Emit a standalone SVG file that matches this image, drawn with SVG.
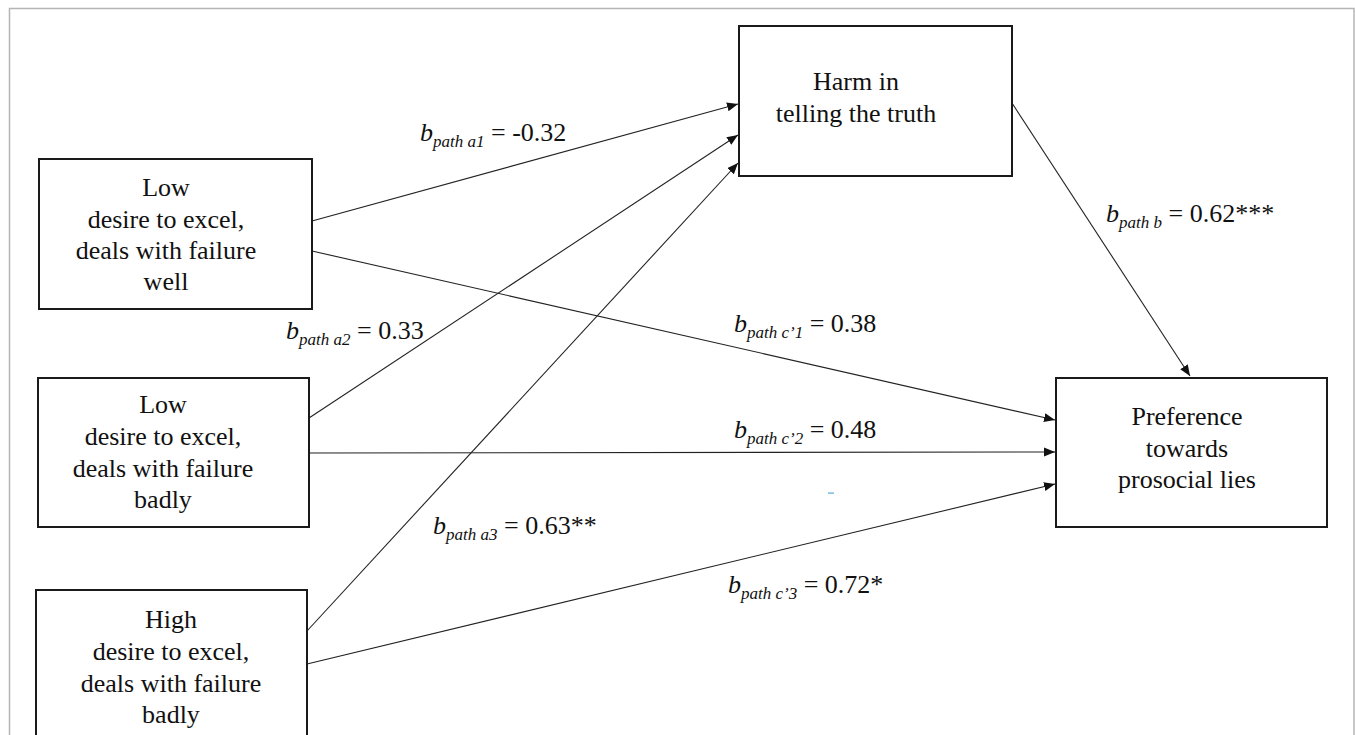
<svg xmlns="http://www.w3.org/2000/svg" width="1355" height="735" viewBox="0 0 1355 735">
<style>
.box{fill:#fff;stroke:#1a1a1a;stroke-width:2}
text{font-family:'Liberation Serif','Times New Roman','DejaVu Serif',serif;font-size:26px;fill:#111}
.t{text-anchor:middle}
.it{font-style:italic}
.sub{font-style:italic;font-size:17px}
.edge{stroke:#222;stroke-width:1.1;fill:none;marker-end:url(#ah)}
.frame{stroke:#b5b5b5;stroke-width:1.5;fill:none}
</style>
<defs>
<marker id="ah" markerUnits="userSpaceOnUse" markerWidth="12" markerHeight="10" refX="11" refY="4.5" orient="auto">
<path d="M0,0 L11,4.5 L0,9 Z" fill="#111"/>
</marker>
</defs>
<rect width="1355" height="735" fill="#fff"/>
<path class="frame" d="M9.5,735 V8.5 H1354 V735"/>

<g id="connectors">
<line class="edge" x1="312" y1="221" x2="738" y2="104"/>
<line class="edge" x1="309" y1="418" x2="738" y2="135"/>
<line class="edge" x1="307" y1="631" x2="738" y2="163"/>
<line class="edge" x1="312" y1="251" x2="1055" y2="420"/>
<line class="edge" x1="309" y1="453" x2="1055" y2="452"/>
<line class="edge" x1="307" y1="664" x2="1055" y2="484"/>
<line class="edge" x1="1012" y1="103" x2="1190" y2="376"/>
</g>

<g id="labels">
<text x="420" y="141" font-family="Liberation Serif, serif"><tspan class="it">b</tspan><tspan class="sub" dy="6">path a1</tspan><tspan dy="-6"> = -0.32</tspan></text>
<text x="286" y="339" font-family="Liberation Serif, serif"><tspan class="it">b</tspan><tspan class="sub" dy="6">path a2</tspan><tspan dy="-6"> = 0.33</tspan></text>
<text x="433" y="534" font-family="Liberation Serif, serif"><tspan class="it">b</tspan><tspan class="sub" dy="6">path a3</tspan><tspan dy="-6"> = 0.63**</tspan></text>
<text x="734" y="332" font-family="Liberation Serif, serif"><tspan class="it">b</tspan><tspan class="sub" dy="6">path c’1</tspan><tspan dy="-6"> = 0.38</tspan></text>
<text x="734" y="438" font-family="Liberation Serif, serif"><tspan class="it">b</tspan><tspan class="sub" dy="6">path c’2</tspan><tspan dy="-6"> = 0.48</tspan></text>
<text x="728" y="593" font-family="Liberation Serif, serif"><tspan class="it">b</tspan><tspan class="sub" dy="6">path c’3</tspan><tspan dy="-6"> = 0.72*</tspan></text>
<text x="1106" y="222" font-family="Liberation Serif, serif"><tspan class="it">b</tspan><tspan class="sub" dy="6">path b</tspan><tspan dy="-6"> = 0.62***</tspan></text>
</g>

<rect x="828" y="492.5" width="6" height="1.2" fill="#5ad"/>

<g id="node-low-well">
<rect class="box" x="39" y="159" width="273" height="150"/>
<text class="t" x="166" y="196">Low</text>
<text class="t" x="166" y="228">desire to excel,</text>
<text class="t" x="166" y="259">deals with failure</text>
<text class="t" x="166" y="290">well</text>
</g>

<g id="node-low-badly">
<rect class="box" x="38" y="378" width="271" height="149"/>
<text class="t" x="163" y="413">Low</text>
<text class="t" x="163" y="445">desire to excel,</text>
<text class="t" x="163" y="477">deals with failure</text>
<text class="t" x="163" y="508">badly</text>
</g>

<g id="node-high-badly">
<rect class="box" x="36" y="590" width="271" height="160"/>
<text class="t" x="171" y="628">High</text>
<text class="t" x="171" y="660">desire to excel,</text>
<text class="t" x="171" y="692">deals with failure</text>
<text class="t" x="171" y="723">badly</text>
</g>

<g id="node-harm">
<rect class="box" x="739" y="26" width="273" height="150"/>
<text class="t" x="856" y="90">Harm in</text>
<text class="t" x="856" y="122">telling the truth</text>
</g>

<g id="node-preference">
<rect class="box" x="1056" y="378" width="271" height="149"/>
<text class="t" x="1187" y="425">Preference</text>
<text class="t" x="1187" y="457">towards</text>
<text class="t" x="1187" y="488">prosocial lies</text>
</g>
</svg>
